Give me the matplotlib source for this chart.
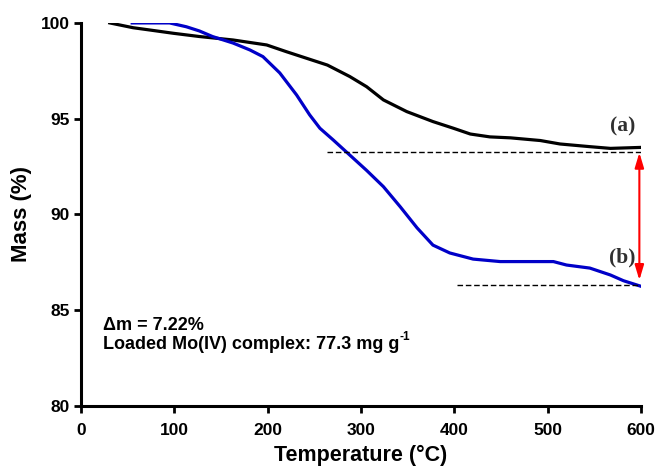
import matplotlib
matplotlib.use("Agg")
import matplotlib.pyplot as plt

# TGA curves
temp_a = [31, 56, 74, 99, 127, 163, 199, 220, 242, 264, 288, 306, 324, 349, 377,
          399, 417, 438, 460, 492, 513, 545, 567, 599]
mass_a = [100.0, 99.75, 99.63, 99.46, 99.29, 99.11, 98.85, 98.5, 98.15, 97.8, 97.2,
          96.67, 95.98, 95.37, 94.85, 94.5, 94.2, 94.05, 94.0, 93.86, 93.68, 93.54,
          93.45, 93.5]

temp_b = [55, 95, 113, 127, 141, 163, 181, 195, 213, 231, 245, 256, 270, 288, 306,
          324, 342, 360, 377, 395, 420, 449, 467, 506, 520, 545, 567, 581, 601]
mass_b = [100.0, 100.0, 99.8, 99.58, 99.29, 98.95, 98.59, 98.24, 97.39, 96.24, 95.2,
          94.5, 93.9, 93.1, 92.3, 91.45, 90.4, 89.3, 88.4, 87.99, 87.67, 87.54, 87.54,
          87.54, 87.36, 87.2, 86.84, 86.54, 86.23]

base_a = [264, 610]
base_b = [403, 599]
level_a = 93.28
level_b = 86.32

x_ticks = [0, 100, 200, 300, 400, 500, 600]
y_ticks = [80, 85, 90, 95, 100]

plt.rcParams["font.family"] = ["Liberation Sans", "DejaVu Sans"]

fig = plt.figure(figsize=(6.57, 4.68), dpi=100)
ax = fig.add_axes([0.123, 0.1325, 0.853, 0.8185])

ax.plot(temp_a, mass_a, color="black", lw=2.3, solid_joinstyle="round")
ax.plot(temp_b, mass_b, color="#0000c8", lw=2.3, solid_joinstyle="round")

ax.plot(base_a, [level_a, level_a], color="black", lw=1.0, ls=(0, (4, 2)))
ax.plot(base_b, [level_b, level_b], color="black", lw=1.0, ls=(0, (4, 2)))

# delta-m double arrow
ax.annotate("", xy=(598, level_a - 0.05), xytext=(598, level_b + 0.25),
            arrowprops=dict(arrowstyle="<|-|>,head_length=1.0,head_width=0.3",
                            color="red", lw=1.5, mutation_scale=9,
                            shrinkA=0, shrinkB=0))

ax.text(580, 94.57, "(a)", family="Liberation Serif", fontweight="bold",
        fontsize=15.5, ha="center", va="center", color="#303030")
ax.text(580, 87.73, "(b)", family="Liberation Serif", fontweight="bold",
        fontsize=15.5, ha="center", va="center", color="#303030")

ax.text(23.5, 84.18, "\u0394m = 7.22%", fontsize=13, fontweight="bold", va="center")
t2 = ax.text(23.5, 83.19, "Loaded Mo(IV) complex: 77.3 mg g", fontsize=13,
             fontweight="bold", va="center")
ax.annotate("-1", xy=(1, 1), xycoords=t2, xytext=(0.5, -5),
            textcoords="offset points", fontsize=8.5, fontweight="bold",
            ha="left", va="bottom")

ax.set_xlim(0, 600)
ax.set_ylim(80, 100)
ax.set_xticks(x_ticks)
ax.set_yticks(y_ticks)
for lab in ax.get_xticklabels() + ax.get_yticklabels():
    lab.set_fontweight("bold")
ax.tick_params(labelsize=12.5, width=2, length=5, direction="out")
ax.tick_params(axis="x", pad=7)
ax.tick_params(axis="y", pad=3)

for s in ["top", "right"]:
    ax.spines[s].set_visible(False)
for s in ["left", "bottom"]:
    ax.spines[s].set_linewidth(2.2)

ax.set_xlabel("Temperature (\u00b0C)", fontsize=15.5, fontweight="bold", labelpad=5)
ax.set_ylabel("Mass (%)", fontsize=16, fontweight="bold", labelpad=6)

fig.savefig("out.png", dpi=100)
